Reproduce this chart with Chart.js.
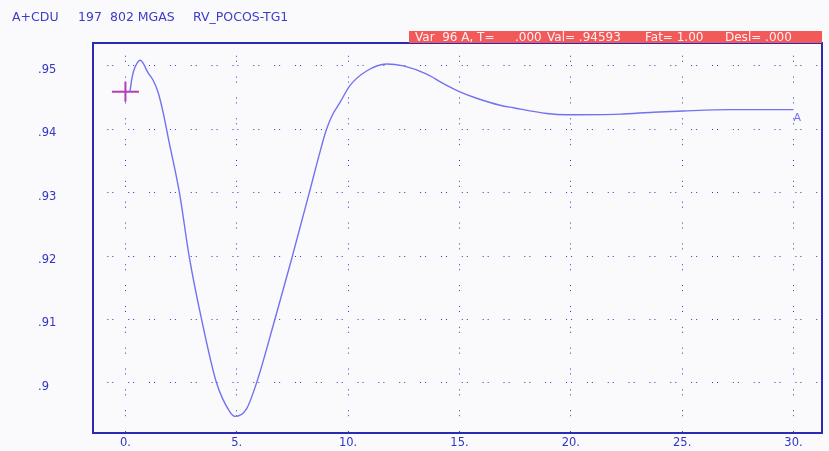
<!DOCTYPE html>
<html>
<head>
<meta charset="utf-8">
<script src="https://cdn.jsdelivr.net/npm/chart.js@4/dist/chart.umd.min.js"></script>
<style>
    body { margin: 0; background: #fafafc; }
    #wrap { position: relative; width: 829px; height: 451px; font-family: "DejaVu Sans", Verdana, sans-serif; }
    #plotChart { position: absolute; left: 0; top: 0; }
    .hdr { position: absolute; top: 9px; font-size: 12.5px; line-height: 15px; color: #3c3cc8; white-space: pre; }
    #redBar { position: absolute; left: 409px; top: 31px; width: 413px; height: 12px; background: #f25a5a; }
    .bar { position: absolute; top: 31px; font-size: 12px; line-height: 12px; color: #fff0f0; white-space: pre; }
</style>
</head>
<body>
<div id="wrap">
    <canvas id="plotChart" width="829" height="451"></canvas>
    <span class="hdr" style="left:12px">A+CDU</span>
    <span class="hdr" style="left:78px">197</span>
    <span class="hdr" style="left:110px">802 MGAS</span>
    <span class="hdr" style="left:193px">RV_POCOS-TG1</span>
    <div id="redBar"></div>
    <span class="bar" style="left:415px">Var  96 A, T=</span>
    <span class="bar" style="left:515px">.000</span>
    <span class="bar" style="left:547px">Val= .94593</span>
    <span class="bar" style="left:645px">Fat= 1.00</span>
    <span class="bar" style="left:725px">Desl= .000</span>
</div>
<script>
// time (s) and value
const timeValues = [0.20, 0.30, 0.42, 0.67, 1.02, 1.25, 1.47, 1.69, 1.92, 2.44, 2.86, 3.42, 4.09, 4.69, 4.91,
    5.44, 5.89, 6.71, 7.46, 8.28, 8.75, 9.03, 9.30, 9.63, 10.08, 10.83, 11.73, 12.48, 13.53, 14.28, 15.02, 15.77,
    16.82, 17.42, 18.92, 19.82, 22.2, 23.7, 25.06, 27.16, 30.0];
const traceValues = [0.9459, 0.9482, 0.9497, 0.9509, 0.9489, 0.9477, 0.9458, 0.9427, 0.9387, 0.9297, 0.9200,
    0.9100, 0.9000, 0.8954, 0.8947, 0.8959, 0.9000, 0.9100, 0.9195, 0.9303, 0.9366, 0.9400, 0.9423, 0.9442,
    0.9469, 0.9492, 0.9503, 0.9500, 0.9487, 0.9472, 0.9459, 0.9449, 0.9438, 0.9434, 0.9425, 0.9423, 0.9424,
    0.9427, 0.9429, 0.9431, 0.9431];

const xTicks = [0, 5, 10, 15, 20, 25, 30];
const yTicks = [0.90, 0.91, 0.92, 0.93, 0.94, 0.95];
const cursorTime = 0;
const cursorValue = 0.94593;
const traceName = "A";

const blue = "#3434c4";
const dotDash = [1, 4, 1, 14.85];
const tickFont = { family: "'DejaVu Sans', Verdana, sans-serif", size: 11.5 };

// frame round the plot + the trace name at the end of the curve
const framePlugin = {
    id: "frame",
    afterDatasetsDraw(chart) {
        const { ctx, chartArea, scales } = chart;
        ctx.save();
        ctx.strokeStyle = "#2a2ab4";
        ctx.lineWidth = 2;
        ctx.strokeRect(chartArea.left, chartArea.top, chartArea.right - chartArea.left, chartArea.bottom - chartArea.top);

        const lastX = scales.x.getPixelForValue(timeValues[timeValues.length - 1]);
        const lastY = scales.y.getPixelForValue(traceValues[traceValues.length - 1]);
        ctx.fillStyle = "#7272f0";
        ctx.font = "11px 'DejaVu Sans', Verdana, sans-serif";
        ctx.textBaseline = "middle";
        ctx.fillText(traceName, lastX, lastY + 8);
        ctx.restore();
    }
};

const ctx = document.getElementById("plotChart").getContext("2d");
new Chart(ctx, {
    type: "line",
    data: {
        datasets: [{
            data: timeValues.map((t, i) => ({ x: t, y: traceValues[i] })),
            borderColor: "#7272f0",
            borderWidth: 1.4,
            pointRadius: 0,
            cubicInterpolationMode: "monotone",
            fill: false
        }, {
            // horizontal arm of the cursor
            data: [{ x: cursorTime, y: cursorValue }],
            showLine: false,
            pointStyle: "line",
            pointRadius: 13.5,
            borderColor: "#b43cb4",
            borderWidth: 2
        }, {
            // vertical arm of the cursor
            data: [{ x: cursorTime, y: cursorValue }],
            showLine: false,
            pointStyle: "line",
            rotation: 90,
            pointRadius: 10,
            borderColor: "#b43cb4",
            borderWidth: 2
        }]
    },
    options: {
        responsive: false,
        animation: false,
        layout: { autoPadding: false, padding: { top: 43, right: 7, left: 38, bottom: 0 } },
        plugins: {
            legend: { display: false },
            tooltip: { enabled: false }
        },
        scales: {
            x: {
                type: "linear",
                min: -1.456,
                max: 31.28,
                afterBuildTicks: s => { s.ticks = xTicks.map(v => ({ value: v })); },
                afterFit: s => { s.height = 18; s.paddingLeft = 0; s.paddingRight = 0; },
                grid: { color: blue, lineWidth: 1, drawTicks: false },
                border: { display: false, dash: dotDash, dashOffset: 8.1 },
                ticks: {
                    color: blue,
                    padding: 3,
                    font: tickFont,
                    callback: v => v + "."
                }
            },
            y: {
                type: "linear",
                min: 0.89208,
                max: 0.95362,
                afterBuildTicks: s => { s.ticks = yTicks.map(v => ({ value: v })); },
                afterFit: s => { s.width = 55; s.paddingTop = 0; s.paddingBottom = 0; },
                grid: { color: blue, lineWidth: 1, drawTicks: false },
                border: { display: false, dash: dotDash, dashOffset: 6.5 },
                ticks: {
                    color: blue,
                    crossAlign: "far",
                    padding: 0,
                    labelOffset: 4,
                    font: tickFont,
                    callback: v => String(Math.round(v * 100) / 100).replace(/^0/, "")
                }
            }
        }
    },
    plugins: [framePlugin]
});
</script>
</body>
</html>
